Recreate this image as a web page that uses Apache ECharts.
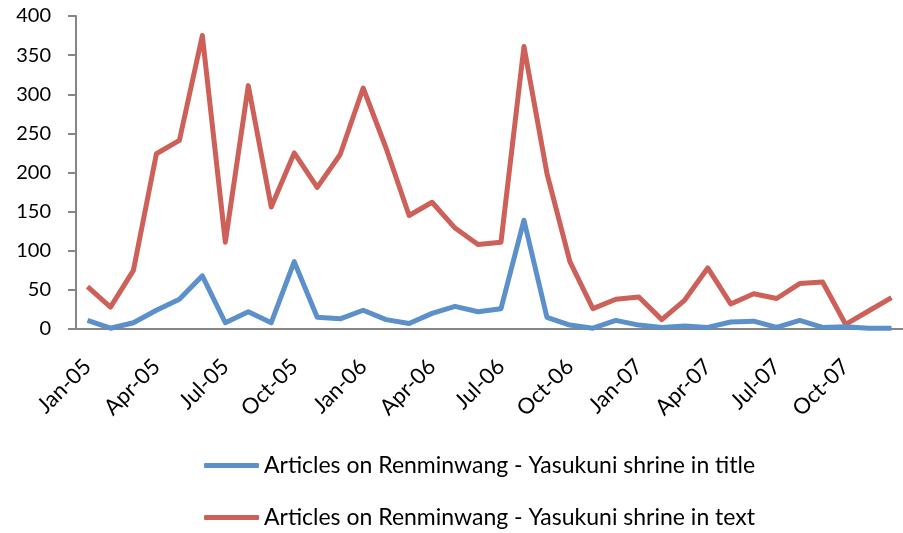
<!DOCTYPE html>
<html>
<head>
<meta charset="utf-8">
<script src="https://cdn.jsdelivr.net/npm/echarts@6/dist/echarts.min.js"></script>
<style>
  html, body { margin: 0; padding: 0; background: #fff; }
  #chart { width: 903px; height: 533px; }
</style>
</head>
<body>
<div id="chart"></div>
<script>
// months Jan-05 .. Dec-07
const months = [
  'Jan-05', 'Feb-05', 'Mar-05', 'Apr-05', 'May-05', 'Jun-05', 'Jul-05', 'Aug-05', 'Sep-05', 'Oct-05', 'Nov-05', 'Dec-05',
  'Jan-06', 'Feb-06', 'Mar-06', 'Apr-06', 'May-06', 'Jun-06', 'Jul-06', 'Aug-06', 'Sep-06', 'Oct-06', 'Nov-06', 'Dec-06',
  'Jan-07', 'Feb-07', 'Mar-07', 'Apr-07', 'May-07', 'Jun-07', 'Jul-07', 'Aug-07', 'Sep-07', 'Oct-07', 'Nov-07', 'Dec-07'
];

// Yasukuni shrine in title
const inTitle = [
  11, 1, 8, 24, 38, 68, 8, 22, 8, 86, 15, 13,
  24, 12, 7, 20, 29, 22, 26, 139, 15, 5, 1, 11,
  5, 2, 4, 2, 9, 10, 2, 11, 2, 3, 1, 1
];

// Yasukuni shrine in text
const inText = [
  54, 28, 75, 224, 241, 375, 111, 311, 156, 225, 181, 223,
  308, 231, 145, 162, 129, 108, 111, 361, 199, 86, 26, 38,
  41, 12, 37, 78, 32, 45, 39, 58, 60, 6, 23, 40
];

const seriesNames = [
  'Articles on Renminwang - Yasukuni shrine in title',
  'Articles on Renminwang - Yasukuni shrine in text'
];

const yMin = 0, yMax = 400, yStep = 50;

const chart = echarts.init(document.getElementById('chart'));
const axisGrey = '#868686';
const font = 'Lato, "Open Sans", sans-serif';

chart.setOption({
  animation: false,
  textStyle: { fontFamily: font },
  grid: { left: 76, right: -4, top: 16, bottom: 204 },
  legend: {
    orient: 'vertical',
    left: 204,
    top: 454,
    padding: 0,
    itemGap: 29,
    itemWidth: 55,
    itemHeight: 5,
    icon: 'roundRect',
    textStyle: { fontSize: 23, color: '#000', fontFamily: font },
    data: seriesNames
  },
  xAxis: {
    type: 'category',
    data: months,
    boundaryGap: true,
    axisLine: { lineStyle: { color: axisGrey, width: 2 } },
    axisTick: { interval: 2, length: 7, lineStyle: { color: axisGrey, width: 2 } },
    axisLabel: { interval: 2, rotate: 45, margin: 34, fontSize: 22, color: '#000', fontFamily: font }
  },
  yAxis: {
    type: 'value',
    min: yMin,
    max: yMax,
    interval: yStep,
    axisLine: { show: true, lineStyle: { color: axisGrey, width: 2 } },
    axisTick: { show: true, length: 8, lineStyle: { color: axisGrey, width: 2 } },
    splitLine: { show: false },
    axisLabel: { margin: 25, fontSize: 20, color: '#000', fontFamily: font }
  },
  series: [
    {
      name: seriesNames[0],
      type: 'line',
      data: inTitle,
      symbol: 'none',
      z: 3,
      itemStyle: { color: '#5B90CA' },
      lineStyle: { width: 5, color: '#5B90CA', join: 'round' }
    },
    {
      name: seriesNames[1],
      type: 'line',
      data: inText,
      symbol: 'none',
      z: 2,
      itemStyle: { color: '#CD615A' },
      lineStyle: { width: 5, color: '#CD615A', join: 'round' }
    }
  ]
});
</script>
</body>
</html>
